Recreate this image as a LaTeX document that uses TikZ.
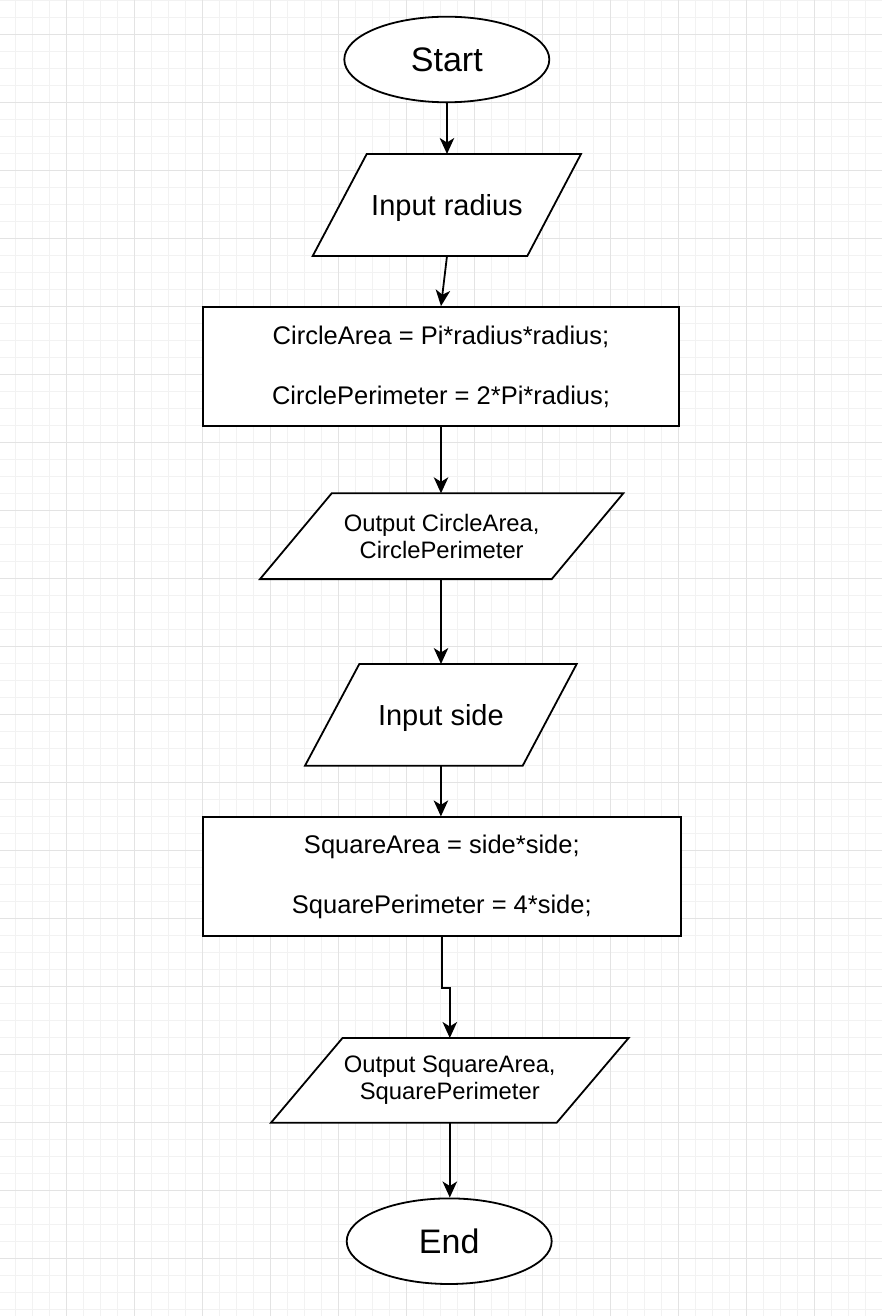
\documentclass[tikz,border=0pt]{standalone}
\usepackage{fontspec}
\setmainfont{Liberation Sans}
\usetikzlibrary{shapes.geometric,arrows.meta,calc}
\definecolor{minorgrid}{HTML}{F2F2F2}
\definecolor{majorgrid}{HTML}{E3E3E3}
\begin{document}
\begin{tikzpicture}[x=1pt,y=-1pt,
  outl/.style={line width=1.8pt,draw=black},
  arr/.style={line width=1.8pt,-{Stealth[length=16pt,width=14.5pt,inset=4.5pt]}},
  term/.style={ellipse,outl,fill=white,inner sep=0pt,minimum width=205pt,minimum height=85.6pt,
    font=\fontsize{34}{40}\selectfont},
  procbox/.style={rectangle,outl,fill=white,inner sep=0pt,align=center,
    font=\fontsize{25.5}{30}\selectfont},
  iobig/.style={rectangle,inner sep=0pt,outer sep=0pt,align=center,text height=20.3pt,text depth=0pt,
    font=\fontsize{29}{34}\selectfont},
  iosmall/.style={rectangle,inner sep=0pt,outer sep=0pt,align=center,
    font=\fontsize{23.8}{26.6}\selectfont},
  para/.style={outl,fill=white,line join=miter}
]
\useasboundingbox (0,0) rectangle (882,1316);
\fill[white] (0,0) rectangle (882,1316);
% grid
\foreach \i in {0,...,52} \draw[minorgrid,line width=1pt] ({-1.3+17*\i},0) -- ({-1.3+17*\i},1316);
\foreach \i in {0,...,77} \draw[minorgrid,line width=1pt] (0,{0.3+17*\i}) -- (882,{0.3+17*\i});
\foreach \i in {0,...,13} \draw[majorgrid,line width=1pt] ({-1.3+68*\i},0) -- ({-1.3+68*\i},1316);
\foreach \i in {0,...,18} \draw[majorgrid,line width=1pt] (0,{34.3+68*\i}) -- (882,{34.3+68*\i});

% nodes (frames of the parallelograms first, text nodes on top)
\node[term] (start) at (446.8,59.5) {Start};

\coordinate (irc) at (447,205);
\draw[para] ($(irc)+(-80.3,-51)$) -- ($(irc)+(134,-51)$) -- ($(irc)+(80.3,51)$) -- ($(irc)+(-134.3,51)$) -- cycle;
\node[iobig,minimum width=268.3pt,minimum height=102pt] (ir) at (irc) {Input radius};

\node[procbox,minimum width=476.6pt,minimum height=119pt] (r1) at (441,366.5)
  {CircleArea = Pi*radius*radius;\\[30pt]CirclePerimeter = 2*Pi*radius;};

\coordinate (ocac) at (441.7,536.2);
\draw[para] ($(ocac)+(-110,-42.9)$) -- ($(ocac)+(181.6,-42.9)$) -- ($(ocac)+(110,42.9)$) -- ($(ocac)+(-181.7,42.9)$) -- cycle;
\node[iosmall,minimum width=363.3pt,minimum height=85.8pt] (oca) at (ocac) {Output CircleArea,\\CirclePerimeter};

\coordinate (isc) at (440.9,714.85);
\draw[para] ($(isc)+(-81.6,-50.85)$) -- ($(isc)+(135.8,-50.85)$) -- ($(isc)+(81.8,50.85)$) -- ($(isc)+(-135.9,50.85)$) -- cycle;
\node[iobig,minimum width=271.7pt,minimum height=101.7pt] (is) at (isc) {Input side};

\node[procbox,minimum width=478.3pt,minimum height=118.7pt] (r2) at (441.85,876.65)
  {SquareArea = side*side;\\[30pt]SquarePerimeter = 4*side;};

\coordinate (osac) at (449.8,1080.35);
\draw[para] ($(osac)+(-107.3,-42.35)$) -- ($(osac)+(178.8,-42.35)$) -- ($(osac)+(106.9,42.35)$) -- ($(osac)+(-178.8,42.35)$) -- cycle;
\node[iosmall,minimum width=357.6pt,minimum height=84.7pt] (osa) at (osac) {Output SquareArea,\\SquarePerimeter};

\node[term] (end) at (449.2,1241.2) {End};

% connectors
\draw[arr] (start) -- (ir.north);
\draw[arr] (ir.south) -- (r1.north);
\draw[arr] (r1.south) -- (oca.north -| r1.south);
\draw[arr] (oca.south -| r1.south) -- (is.north -| r1.south);
\draw[arr] (is.south) -- (r2.north -| is.south);
\draw[arr] (r2.south) -- ++(0,50.7) -| (osa.north);
\draw[arr] (osa.south) -- (end.north -| osa.south);
\end{tikzpicture}
\end{document}
